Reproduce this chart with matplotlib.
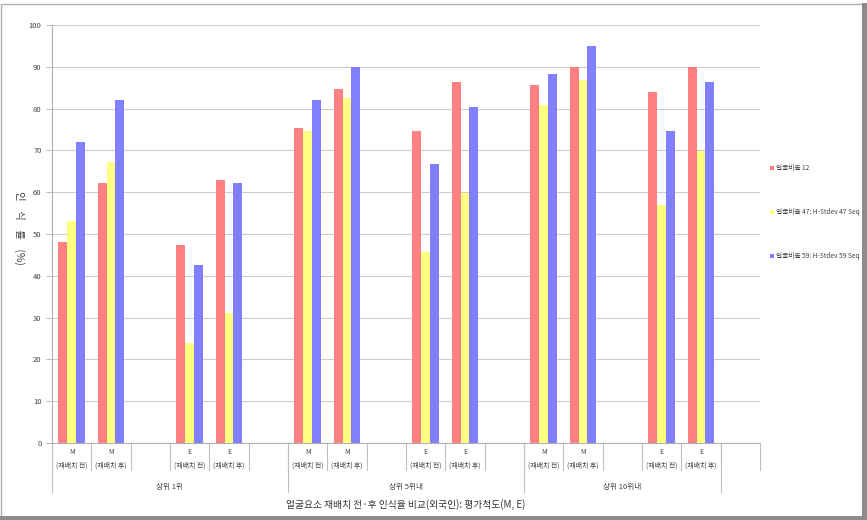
import matplotlib
matplotlib.use("Agg")
import matplotlib.pyplot as plt
from matplotlib.patches import Patch, Rectangle
import matplotlib.transforms as mtransforms

plt.rcParams['font.family'] = ['Noto Sans CJK KR', 'DejaVu Sans']

# data
groups = ['상위 1위', '상위 5위내', '상위 10위내']
cats = ['M\n(재배치 전)', 'M\n(재배치 후)', 'E\n(재배치 전)', 'E\n(재배치 후)']
series = ['얼굴비율 12', '얼굴비율 47: H-Stdev 47 Seq', '얼굴비율 59: H-Stdev 59 Seq']
s12 = [48.1, 62.2, 47.4, 63.0, 75.3, 84.6, 74.6, 86.4, 85.6, 90.0, 83.9, 90.0]
s47 = [53.0, 67.2, 24.0, 31.0, 74.6, 82.6, 45.7, 59.7, 80.9, 86.8, 56.9, 69.9]
s59 = [72.1, 82.0, 42.5, 62.2, 82.0, 90.0, 66.7, 80.3, 88.3, 94.9, 74.6, 86.3]
colors = ['#ff8080', '#ffff80', '#8080ff']

fig = plt.figure(figsize=(8.67, 5.2), dpi=100)
ax = fig.add_axes([52/867, 1-443/520, (760-52)/867, (443-25)/520])

# each group has 6 slots: M전, M후, blank, E전, E후, blank
slot_in_group = [0, 1, 3, 4]
xs = [g*6 + s + 0.5 for g in range(len(groups)) for s in slot_in_group]
w = 0.225
for k, (vals, c) in enumerate(zip([s12, s47, s59], colors)):
    ax.bar([x + (k-1)*w for x in xs], vals, width=w, color=c, label=series[k], zorder=3)

ax.set_xlim(0, 18)
ax.set_ylim(0, 100)
ax.set_yticks(range(0, 101, 10))
ax.tick_params(axis='y', labelsize=5.5, colors='#444444', length=4, width=0.6, color='#aaaaaa')
ax.set_xticks([])
ax.grid(axis='y', color='#cccccc', linewidth=0.8, zorder=0)
for s in ['top', 'right']:
    ax.spines[s].set_visible(False)
ax.spines['left'].set_color('#b0b0b0')
ax.spines['bottom'].set_color('#b0b0b0')

# multi-level category axis
tr = mtransforms.blended_transform_factory(ax.transData, ax.transAxes)
h = 418.0
for b in range(19):
    ax.plot([b, b], [0, -27/h], color='#c0c0c0', lw=0.8, transform=tr, clip_on=False)
for b in [0, 6, 12, 17]:
    ax.plot([b, b], [0, -49/h], color='#c0c0c0', lw=0.8, transform=tr, clip_on=False)
for x, lab in zip(xs, cats * len(groups)):
    top, bot = lab.split('\n')
    ax.text(x, -9/h, top, transform=tr, ha='center', va='center', fontsize=5, color='#444444')
    ax.text(x, -23/h, bot, transform=tr, ha='center', va='center', fontsize=5, color='#444444')
for g, name in enumerate(groups):
    cx = (g*6 + min(g*6 + 6, 17)) / 2
    ax.text(cx, -44/h, name, transform=tr, ha='center', va='center', fontsize=5.5, color='#444444')

ax.text(9, -62/h, '얼굴요소 재배치 전·후 인식율 비교(외국인): 평가척도(M, E)', transform=tr,
        ha='center', va='center', fontsize=7, color='#333333')
fig.text(20/867, 1-228/520, '인    식    률    (%)', rotation=-90, ha='center', va='center',
         fontsize=7.5, color='#444444')

handles = [Patch(facecolor=c, edgecolor='none') for c in colors]
fig.legend(handles, series, loc='center left', bbox_to_anchor=(764/867, 1-212/520),
           frameon=False, fontsize=4.8, handlelength=0.55, handleheight=0.55,
           handletextpad=0.4, labelspacing=5.4, labelcolor='#444444')

# frame with shadow
fig.patches.append(Rectangle((0.5/867, 0.5/520), 864/867, 516/520, transform=fig.transFigure,
                             fill=False, edgecolor='#b0b0b0', lw=1))
fig.patches.append(Rectangle((862/867, 0), 5/867, 517/520, transform=fig.transFigure,
                             facecolor='#8c8c8c', edgecolor='none'))
fig.patches.append(Rectangle((0, 0), 867/867, 4/520, transform=fig.transFigure,
                             facecolor='#8c8c8c', edgecolor='none'))

fig.savefig('out.png', dpi=100)
